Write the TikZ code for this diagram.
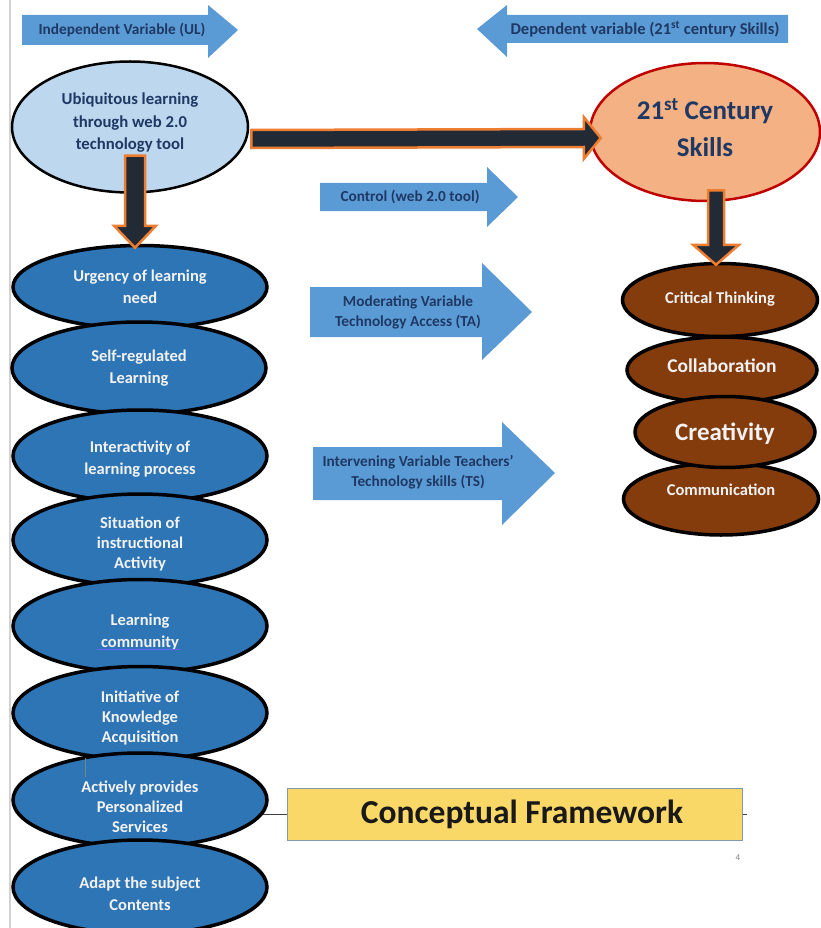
\documentclass[tikz,border=0pt]{standalone}
\usepackage{fontspec}
\setmainfont{Carlito}
\usetikzlibrary{shapes.geometric,calc,backgrounds}
\definecolor{arrowblue}{HTML}{5B9BD5}
\definecolor{navytxt}{HTML}{1F3864}
\definecolor{ubifill}{HTML}{BDD7EE}
\definecolor{skillfill}{HTML}{F4B183}
\definecolor{skillborder}{HTML}{C00000}
\definecolor{darkconn}{HTML}{222A35}
\definecolor{orangeedge}{HTML}{ED7D31}
\definecolor{leftblue}{HTML}{2E75B6}
\definecolor{brownfill}{HTML}{843C0C}
\definecolor{paletxt}{HTML}{F2F2F2}
\definecolor{cfyellow}{HTML}{F9D867}
\definecolor{cfborder}{HTML}{8497B0}
\tikzset{
  arrowtxt/.style={text=navytxt, font=\bfseries\fontsize{15.3}{20}\selectfont, align=center, inner sep=0},
  blockarrow/.style={fill=arrowblue},
  leftell/.style={ellipse, draw=black, line width=3.5pt, fill=leftblue, minimum width=254, minimum height=92, inner sep=0},
  lefttxt/.style={text=paletxt, font=\bfseries\fontsize{16.5}{22}\selectfont, align=center, inner sep=0},
  lefttxt3/.style={lefttxt, font=\bfseries\fontsize{16.5}{20}\selectfont},
  rightell/.style={ellipse, draw=black, line width=3.5pt, fill=brownfill, inner sep=0},
  righttxt/.style={text=paletxt, align=center, inner sep=0},
  conn/.style={fill=darkconn, draw=orangeedge, line width=2.5pt, line join=miter},
}
\begin{document}
\begin{tikzpicture}[x=1pt,y=-1pt]
\useasboundingbox (0,0) rectangle (820,928);

% block arrows
\fill[blockarrow] (22,15) -- (208,15) -- (208,5) -- (238,30) -- (208,58) -- (208,45) -- (22,45) -- cycle;
\node[arrowtxt] (iv) at (122,30) {Independent Variable (UL)};
\fill[blockarrow] (788,15) -- (507,15) -- (507,5) -- (477,29) -- (507,57) -- (507,43) -- (788,43) -- cycle;
\node[arrowtxt, font=\bfseries\fontsize{16.5}{20}\selectfont] (dv) at (645,29) {Dependent variable (21\textsuperscript{st} century Skills)};
\fill[blockarrow] (320,183) -- (487,183) -- (487,167) -- (518,197) -- (487,227) -- (487,211) -- (320,211) -- cycle;
\node[arrowtxt] (ctrl) at (410,197) {Control (web 2.0 tool)};
\fill[blockarrow] (310,287) -- (482,287) -- (482,263) -- (532,312) -- (482,360) -- (482,337) -- (310,337) -- cycle;
\node[arrowtxt] (mod) at (408,312) {Moderating Variable\\Technology Access (TA)};
\fill[blockarrow] (313,447) -- (502,447) -- (502,422) -- (555,473) -- (502,525) -- (502,500) -- (313,500) -- cycle;
\node[arrowtxt] (inter) at (418,472) {Intervening Variable Teachers'\\Technology skills (TS)};

% top ellipses
\node[ellipse, draw=black, line width=2.5pt, fill=ubifill, minimum width=236, minimum height=131, inner sep=0] (ubi) at (130,127) {};
\node[text=navytxt, font=\bfseries\fontsize{16.7}{22.5}\selectfont, align=center, inner sep=0] (ubit) at (130,123)
  {Ubiquitous learning\\through web 2.0\\technology tool};
\node[ellipse, draw=skillborder, line width=2.5pt, fill=skillfill, minimum width=230, minimum height=138, inner sep=0] (skills) at (705,132) {};
\node[text=navytxt, font=\bfseries\fontsize{27}{37}\selectfont, align=center, inner sep=0] (skillst) at (705,128)
  {21\textsuperscript{st} Century\\Skills};

% left column
\node[leftell, minimum height=83] (urg) at (140,287) {};
\node[lefttxt] (urgt) at (140,287) {Urgency of learning\\need};
\node[leftell] (self) at (139,368) {};
\node[lefttxt] (selft) at (139,368) {Self-regulated\\Learning};
\node[leftell] (inta) at (140,456) {};
\node[lefttxt] (intat) at (140,459) {Interactivity of\\learning process};
\node[leftell] (sit) at (140,540) {};
\node[lefttxt3] (sitt) at (140,544) {Situation of\\instructional\\Activity};
\node[leftell, minimum height=93] (lc) at (140,626) {};
\node[lefttxt] (lct) at (140,632) {Learning\\community};
\node[leftell, minimum height=93] (init) at (140,713) {};
\node[lefttxt3] (initt) at (140,718) {Initiative of\\Knowledge\\Acquisition};
\node[leftell, minimum height=94] (act) at (140,800) {};
\node[lefttxt3] (actt) at (140,807) {Actively provides\\Personalized\\Services};
\node[leftell, minimum height=94] (adapt) at (140,887) {};
\node[lefttxt] (adaptt) at (140,894) {Adapt the subject\\Contents};

% right column
\node[rightell, minimum width=195, minimum height=73] (crit) at (720,300) {};
\node[righttxt, font=\bfseries\fontsize{16.5}{18}\selectfont] (critt) at (720,299) {Critical Thinking};
\node[rightell, minimum width=190, minimum height=66] (coll) at (722,370) {};
\node[righttxt, font=\bfseries\fontsize{19.5}{22}\selectfont] (collt) at (722,366) {Collaboration};
\node[rightell, minimum width=195, minimum height=72] (comm) at (721,499) {};
\node[righttxt, font=\bfseries\fontsize{16.5}{18}\selectfont] (commt) at (721,490) {Communication};
\node[rightell, minimum width=180, minimum height=71] (crea) at (725,432) {};
\node[righttxt, font=\bfseries\fontsize{25}{28}\selectfont] (creat) at (725,434) {Creativity};

% dark connectors
\coordinate (hs) at ($(ubi.east)+(2,12)$);
\coordinate (ht) at ($(skills.west)+(12,6)$);
\draw[conn] ($(hs)+(0,-9)$) -- ($(ht)+(-17,-9)$) -- ($(ht)+(-17,-21)$) -- (ht) -- ($(ht)+(-17,21)$) -- ($(ht)+(-17,9)$) -- ($(hs)+(0,9)$) -- cycle;
\coordinate (ds) at ($(ubi.south)+(5,-38)$);
\coordinate (dt) at ($(urg.north)+(-5,4)$);
\draw[conn] ($(ds)+(-10,0)$) -- ($(dt)+(-10,-22)$) -- ($(dt)+(-21,-22)$) -- (dt) -- ($(dt)+(21,-22)$) -- ($(dt)+(10,-22)$) -- ($(ds)+(10,0)$) -- cycle;
\coordinate (es) at ($(skills.south)+(11,-12)$);
\coordinate (et) at ($(crit.north)+(-4,3)$);
\draw[conn] ($(es)+(-8,0)$) -- ($(et)+(-8,-20)$) -- ($(et)+(-23,-20)$) -- (et) -- ($(et)+(23,-20)$) -- ($(et)+(8,-20)$) -- ($(es)+(8,0)$) -- cycle;

% conceptual framework
\node[draw=cfborder, line width=1pt, fill=cfyellow, minimum width=455, minimum height=52, inner sep=0,
  font=\bfseries\fontsize{33.5}{36}\selectfont, text=black!90] (cf) at (514.5,814) {\hspace*{15pt}Conceptual Framework};

\begin{scope}[on background layer]
  \draw[gray!35, line width=1.5pt] (10,0) -- (10,928);
  \draw[black!75, line width=1pt] (cf.west) -- (cf.west -| act.center);
\end{scope}
\draw[black!75, line width=1pt] (cf.east) -- ++(4,0);

% small details
\draw[gray, line width=0.8pt] (85,758) -- (85,777);
\draw[blue!60, line width=0.8pt] (97,649) -- (180,649);
\node[text=gray, font=\fontsize{9}{10}\selectfont, inner sep=0] (pg) at (738,858) {4};
\end{tikzpicture}
\end{document}
